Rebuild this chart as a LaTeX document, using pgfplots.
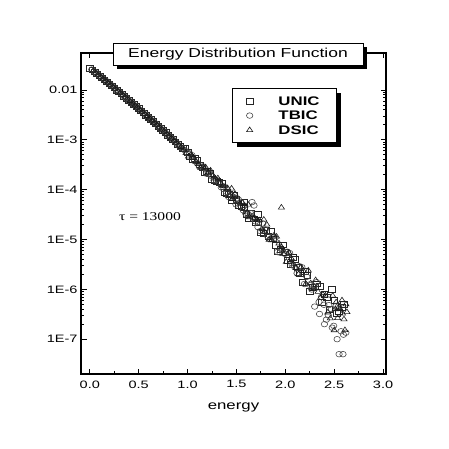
\documentclass[border=0pt]{standalone}
\usepackage{fontspec}
\setmainfont{Liberation Sans}[FakeStretch=1.35]
\newfontfamily\tauserif{Liberation Serif}[FakeStretch=1.3]
\usepackage{pgfplots}
\pgfplotsset{compat=1.18}
\usetikzlibrary{shadows}

\begin{document}
\begin{tikzpicture}
\useasboundingbox (0,0) rectangle (449bp,449bp);
\begin{axis}[
  at={(81bp,75bp)}, anchor=south west,
  scale only axis, width=305bp, height=321bp,
  ymode=log,
  xmin=-0.09, xmax=3.03, ymin=2e-8, ymax=0.055,
  xtick={0,0.5,1,1.5,2,2.5,3}, minor x tick num=1,
  ytick={1e-7,1e-6,1e-5,1e-4,1e-3,1e-2},
  yticklabels={1E-7,1E-6,1E-5,1E-4,1E-3,0.01},
  xticklabel style={yshift=-3bp, /pgf/number format/.cd, fixed, fixed zerofill, precision=1, assume math mode=true},
  tick label style={font=\fontsize{10.8}{12}\selectfont},
  tick align=inside, tick pos=both,
  major tick length=5.5bp, minor tick length=3bp,
  axis line style={line width=1.2bp},
  every tick/.append style={line width=0.8bp, black},
  xlabel={energy}, xlabel style={font=\fontsize{12.5}{14}\selectfont, yshift=-8bp},
  legend style={at={(rel axis cs:0.495,0.891)}, anchor=north west,
    draw=black, line width=0.7bp, fill=white,
    drop shadow={shadow xshift=4.5bp, shadow yshift=-4.5bp, fill=black, opacity=1},
    font=\fontsize{12.5}{14}\selectfont\bfseries,
    inner xsep=14bp, inner ysep=5.5bp,
    nodes={inner sep=2.5bp, text height=9bp, text depth=0.5bp},
    /tikz/every odd column/.append style={column sep=23bp}},
  legend cell align=left,
]

% UNIC
\addplot[only marks, mark=square, mark size=2.9bp, mark options={black!85, line width=0.6bp, xscale=1.15}] coordinates {
(0.00,2.75e-2)(0.05,2.30e-2)(0.10,1.92e-2)(0.15,1.60e-2)(0.20,1.33e-2)(0.25,1.10e-2)
(0.30,9.14e-3)(0.35,7.55e-3)(0.40,6.22e-3)(0.45,5.13e-3)(0.50,4.22e-3)(0.55,3.46e-3)
(0.60,2.83e-3)(0.65,2.32e-3)(0.70,1.89e-3)(0.75,1.54e-3)(0.80,1.25e-3)(0.85,1.02e-3)
(0.90,8.22e-4)(0.95,6.62e-4)(1.00,5.56e-4)(1.05,4.04e-4)(1.10,3.85e-4)(1.15,2.73e-4)
(1.20,2.37e-4)(1.25,1.61e-4)(1.30,1.45e-4)(1.35,1.32e-4)(1.40,8.32e-5)(1.45,6.08e-5)
(1.50,6.44e-5)(1.55,4.69e-5)(1.60,3.20e-5)(1.65,3.30e-5)(1.70,2.16e-5)(1.75,1.38e-5)
(1.80,1.54e-5)(1.85,1.46e-5)(1.90,7.50e-6)(1.95,6.44e-6)(2.00,5.52e-6)(2.05,3.21e-6)
(2.10,4.03e-6)(2.15,2.13e-6)(2.20,2.27e-6)(2.25,9.16e-7)(2.30,1.12e-6)(2.35,1.13e-6)
(2.40,7.94e-7)(2.45,3.98e-7)(2.50,6.03e-7)(2.55,3.55e-7)(2.60,5.01e-7)
(0.025,2.52e-2)(0.075,2.10e-2)(0.125,1.75e-2)(0.175,1.46e-2)(0.225,1.21e-2)(0.275,1.00e-2)
(0.325,8.32e-3)(0.375,6.85e-3)(0.425,5.65e-3)(0.475,4.66e-3)(0.525,3.82e-3)(0.575,3.13e-3)
(0.625,2.56e-3)(0.675,2.09e-3)(0.725,1.71e-3)(0.775,1.39e-3)(0.825,1.13e-3)(0.875,9.14e-4)
(0.925,7.40e-4)(0.975,6.70e-4)(1.025,4.55e-4)(1.075,4.26e-4)(1.125,3.15e-4)(1.175,2.25e-4)
(1.225,2.09e-4)(1.275,1.56e-4)(1.325,1.38e-4)(1.375,8.95e-5)(1.425,8.05e-5)(1.475,7.69e-5)
(1.525,4.75e-5)(1.575,4.44e-5)(1.625,2.67e-5)(1.675,2.59e-5)(1.725,2.21e-5)(1.775,1.34e-5)
(1.825,1.16e-5)(1.875,1.03e-5)(1.925,5.82e-6)(1.975,7.83e-6)(2.025,3.76e-6)(2.075,4.44e-6)
(2.125,2.74e-6)(2.175,1.36e-6)(2.225,1.90e-6)(2.275,1.11e-6)(2.325,1.29e-6)(2.375,5.45e-7)
(2.425,6.92e-7)(2.475,9.84e-7)(2.525,3.28e-7)(2.575,4.34e-7)
(1.58,5.5e-5)(1.72,3.2e-5)
};
\addlegendentry{UNIC}

% TBIC
\addplot[only marks, mark=o, mark size=2.8bp, mark options={black!70, line width=0.6bp, xscale=1.15}] coordinates {
(0.02,2.56e-2)(0.07,2.14e-2)(0.12,1.78e-2)(0.17,1.49e-2)(0.22,1.24e-2)(0.27,1.02e-2)
(0.32,8.47e-3)(0.37,7.00e-3)(0.42,5.75e-3)(0.47,4.74e-3)(0.52,3.90e-3)(0.57,3.19e-3)
(0.62,2.61e-3)(0.67,2.14e-3)(0.72,1.74e-3)(0.77,1.42e-3)(0.82,1.15e-3)(0.87,9.33e-4)
(0.92,7.24e-4)(0.97,6.18e-4)(1.02,5.35e-4)(1.07,3.78e-4)(1.12,2.90e-4)(1.17,2.74e-4)
(1.22,2.09e-4)(1.27,1.54e-4)(1.32,1.43e-4)(1.37,1.02e-4)(1.42,7.13e-5)(1.47,7.11e-5)
(1.52,6.37e-5)(1.57,3.85e-5)(1.62,3.23e-5)(1.67,2.70e-5)(1.72,1.77e-5)(1.77,2.09e-5)
(1.82,1.15e-5)(1.87,1.13e-5)(1.92,5.60e-6)(1.97,6.01e-6)(2.02,5.68e-6)(2.07,3.09e-6)
(2.12,2.10e-6)(2.17,2.77e-6)(2.22,1.78e-6)(2.27,9.91e-7)(2.32,1.39e-6)(2.37,7.05e-7)
(2.42,2.46e-7)(2.47,4.03e-7)(2.52,4.66e-7)(2.57,1.44e-7)(2.62,1.35e-7)
(0.045,2.34e-2)(0.095,1.95e-2)(0.145,1.63e-2)(0.195,1.36e-2)(0.245,1.12e-2)(0.295,9.29e-3)
(0.345,7.71e-3)(0.395,6.35e-3)(0.445,5.22e-3)(0.495,4.31e-3)(0.545,3.53e-3)(0.595,2.89e-3)
(0.645,2.36e-3)(0.695,1.93e-3)(0.745,1.57e-3)(0.795,1.28e-3)(0.845,1.04e-3)(0.895,8.41e-4)
(0.945,6.79e-4)(0.995,5.48e-4)(1.045,4.91e-4)(1.095,3.44e-4)(1.145,3.02e-4)(1.195,2.08e-4)
(1.245,1.87e-4)(1.295,1.56e-4)(1.345,1.11e-4)(1.395,9.08e-5)(1.445,7.82e-5)(1.495,5.04e-5)
(1.545,5.66e-5)(1.595,3.28e-5)(1.645,3.38e-5)(1.695,2.30e-5)(1.745,1.47e-5)(1.795,1.58e-5)
(1.845,1.02e-5)(1.895,1.06e-5)(1.945,5.43e-6)(1.995,5.14e-6)(2.045,5.33e-6)(2.095,2.81e-6)
(2.145,2.90e-6)(2.195,1.28e-6)(2.245,1.24e-6)(2.295,1.15e-6)(2.345,5.56e-7)(2.395,4.90e-7)
(2.445,4.82e-7)(2.495,1.85e-7)(2.545,4.55e-7)(2.595,1.23e-7)
(1.66,5.62e-5)(1.68,4.8e-5)(2.30,4.5e-7)(2.35,3.2e-7)(2.40,2.0e-7)(2.44,3.0e-7)
(2.48,1.7e-7)(2.53,1.0e-7)(2.55,5.0e-8)(2.59,5.0e-8)
};
\addlegendentry{TBIC}

% DSIC
\addplot[only marks, mark=triangle, mark size=3.1bp, mark options={black!90, line width=0.6bp, xscale=1.15}] coordinates {
(0.035,2.43e-2)(0.085,2.03e-2)(0.135,1.69e-2)(0.185,1.41e-2)(0.235,1.17e-2)(0.285,9.66e-3)
(0.335,8.02e-3)(0.385,6.61e-3)(0.435,5.45e-3)(0.485,4.48e-3)(0.535,3.68e-3)(0.585,3.01e-3)
(0.635,2.47e-3)(0.685,2.01e-3)(0.735,1.64e-3)(0.785,1.33e-3)(0.835,1.08e-3)(0.885,8.79e-4)
(0.935,7.16e-4)(0.985,5.42e-4)(1.035,5.07e-4)(1.085,3.67e-4)(1.135,2.75e-4)(1.185,2.81e-4)
(1.235,2.42e-4)(1.285,1.66e-4)(1.335,1.37e-4)(1.385,1.16e-4)(1.435,7.62e-5)(1.485,8.26e-5)
(1.535,5.20e-5)(1.585,4.75e-5)(1.635,2.80e-5)(1.685,2.71e-5)(1.735,2.42e-5)(1.785,1.44e-5)
(1.835,9.91e-6)(1.885,1.21e-5)(1.935,8.32e-6)(1.985,5.16e-6)(2.035,5.45e-6)(2.085,3.16e-6)
(2.135,2.01e-6)(2.185,2.34e-6)(2.235,2.38e-6)(2.285,1.01e-6)(2.335,8.89e-7)(2.385,7.83e-7)
(2.435,3.44e-7)(2.485,7.43e-7)(2.535,2.65e-7)(2.585,3.27e-7)
(0.06,2.22e-2)(0.11,1.85e-2)(0.16,1.54e-2)(0.21,1.28e-2)(0.26,1.06e-2)(0.31,8.79e-3)
(0.36,7.28e-3)(0.41,6.00e-3)(0.46,4.93e-3)(0.51,4.06e-3)(0.56,3.33e-3)(0.61,2.72e-3)
(0.66,2.22e-3)(0.71,1.82e-3)(0.76,1.48e-3)(0.81,1.20e-3)(0.86,9.75e-4)(0.91,7.89e-4)
(0.96,6.37e-4)(1.01,4.63e-4)(1.06,4.34e-4)(1.11,3.25e-4)(1.16,2.89e-4)(1.21,2.24e-4)
(1.26,1.92e-4)(1.31,1.69e-4)(1.36,1.18e-4)(1.41,1.07e-4)(1.46,6.50e-5)(1.51,6.34e-5)
(1.56,5.45e-5)(1.61,3.49e-5)(1.66,2.92e-5)(1.71,2.50e-5)(1.76,1.60e-5)(1.81,1.99e-5)
(1.86,9.62e-6)(1.91,1.14e-5)(1.96,7.08e-6)(2.01,3.56e-6)(2.06,4.20e-6)(2.11,2.68e-6)
(2.16,2.77e-6)(2.21,1.29e-6)(2.26,1.32e-6)(2.31,1.53e-6)(2.36,6.76e-7)(2.41,7.48e-7)
(2.46,2.61e-7)(2.51,3.98e-7)(2.56,4.00e-7)(2.61,1.52e-7)
(1.45,1.05e-4)(1.62,5.0e-5)(1.78,2.5e-5)(1.96,4.37e-5)
(2.50,1.51e-7)(2.52,5.5e-7)(2.55,4.5e-7)(2.58,6.0e-7)(2.60,2.5e-7)(2.62,5.0e-7)(2.63,3.5e-7)
};
\addlegendentry{DSIC}

\end{axis}

\node[draw=black, line width=0.7bp, fill=white, minimum width=250bp, minimum height=22bp,
  inner sep=0pt, font=\fontsize{13}{15}\selectfont,
  drop shadow={shadow xshift=4bp, shadow yshift=-4bp, fill=black, opacity=1}]
  at (238bp,395bp) {Energy Distribution Function};
\node[font=\tauserif\fontsize{12}{14}\selectfont] at (150bp,232bp) {τ = 13000};
\end{tikzpicture}
\end{document}
